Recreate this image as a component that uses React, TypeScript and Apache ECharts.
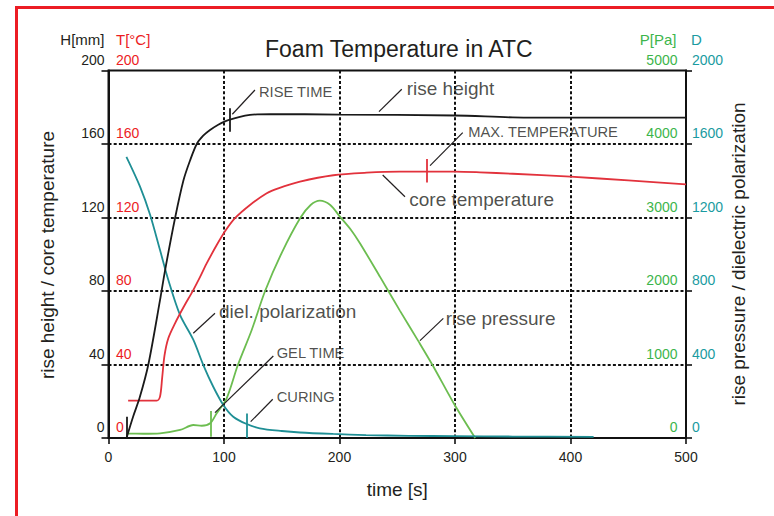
import React, { useEffect, useRef } from "react";
import * as echarts from "echarts";

// ---------- data ----------
const timeTicks = [0, 100, 200, 300, 400, 500];

const riseTime = [15.6, 21.5, 27, 34.5, 44.6, 48.9, 57.6, 64.8, 70.6, 76.4, 82, 87.9, 95, 103.7, 122.5, 140, 200, 300, 350, 400, 500];
const riseHeight = [0, 12, 22, 40, 75, 91, 119.6, 140, 151, 160, 164.5, 167.6, 170.5, 173, 175.8, 176.3, 176, 175.5, 174.5, 174.3, 174.3];

const tempTime = [17, 41.7, 44.6, 46.5, 48.5, 51.8, 57.6, 64.8, 73.4, 79.2, 85, 93.7, 100.9, 109.5, 122.5, 137, 147, 165.8, 194.6, 223.5, 252, 275.5, 300, 321.6, 350, 400, 450, 500];
const coreTemp = [20.3, 20.3, 22.5, 33, 45, 54.3, 62.4, 71, 80.5, 87.5, 95, 105, 112.5, 119.6, 126.8, 133.2, 135.9, 139.5, 143, 144.4, 145, 145, 145, 144.6, 143.8, 142.2, 140.2, 138];

const pressTime = [15.7, 30, 44.6, 62, 73.4, 80.7, 88, 93.7, 102.3, 112, 124, 135.5, 150, 166, 175, 183, 192, 200.4, 210, 217.7, 235, 252.4, 268, 281, 299, 317.5];
const risePressure = [60, 58, 64, 109, 177, 167, 200, 336, 540, 993, 1470, 1996, 2520, 2993, 3170, 3230, 3170, 3011, 2830, 2650, 2195, 1730, 1325, 980, 470, 0];

const polTime = [15.5, 27.3, 36, 44.6, 51.8, 61.9, 73.4, 82.1, 90.7, 99.4, 108, 119.7, 131, 150, 165.8, 194.6, 223, 260, 300, 350, 420];
const polarization = [1530, 1368, 1215, 1023, 860, 670, 535, 397, 279, 180, 116, 76, 53, 38, 30, 22, 16, 12, 10, 8, 6];

// annotations in data units (time, height scale)
const annoText = ["RISE TIME", "rise height", "MAX. TEMPERATURE", "core temperature", "diel. polarization", "rise pressure", "GEL TIME", "CURING"];
const annoCaps = [true, false, true, false, false, false, true, true];
const annoAt = [[130.3, 188.5], [258.2, 190.3], [311.5, 166.7], [260.4, 129.9], [95.7, 68.7], [291.9, 65.1], [145.6, 46.4], [145.6, 22.1]];
const leaderFrom = [[107.2, 176.2], [234.2, 177.6], [278.4, 148.2], [237.4, 143.1], [73.4, 57], [269.7, 53], [92.2, 13.8], [123.1, 8.9]];
const leaderTo = [[126.8, 189.4], [253.9, 189.8], [306.7, 166.2], [256.7, 131.3], [92.2, 67.9], [289.9, 65.1], [142.7, 44.6], [142.2, 21.1]];

// event markers (time, from, to on height scale) and which curve they belong to
const markerTime = [15.6, 104.6, 275.5, 88.5, 119.7];
const markerFrom = [0, 166.7, 139, 0.7, 0];
const markerTo = [11.6, 179.4, 151.8, 14.7, 13.4];
const markerCurve = ["height", "height", "temp", "pressure", "pol"];

// ---------- styles ----------
const FONT = '"Liberation Sans", Arial, Helvetica, sans-serif';
const INK = "#231f20";
const C_H = "#1a1a1a";
const C_T = "#e2323c";
const C_T_LABEL = "#ec1c24";
const C_P = "#6cbd50";
const C_P_LABEL = "#3cb54b";
const C_D = "#1f8f95";
const C_D_LABEL = "#1a9ba1";
const curveColor: Record<string, string> = { height: C_H, temp: C_T, pressure: C_P, pol: C_D };

const zip = (a: number[], b: number[]) => a.map((v, i) => [v, b[i]]);

const gridDash = { color: "#111", width: 2, type: [3, 2.2] as any };
const plain = (v: number) => String(v);

function curve(name: string, axis: number, t: number[], v: number[], color: string, z: number) {
  return {
    name,
    type: "line",
    yAxisIndex: axis,
    data: zip(t, v),
    showSymbol: false,
    symbol: "none",
    smooth: 0.3,
    lineStyle: { color, width: 1.8 },
    z,
  };
}

function buildOption(): any {
  const labelBase = { fontSize: 14, fontFamily: FONT, verticalAlign: "bottom", lineHeight: 22, showMinLabel: true, showMaxLabel: true, formatter: plain };
  return {
    animation: false,
    backgroundColor: "#fff",
    title: {
      text: "Foam Temperature in ATC",
      left: 265,
      top: 37,
      padding: 0,
      textStyle: { fontSize: 23, fontWeight: "normal", color: INK, fontFamily: FONT },
    },
    grid: { left: 108.5, top: 70.5, right: 88, bottom: 78, show: true, borderColor: "#111", borderWidth: 2 },
    xAxis: [
      {
        type: "value",
        min: timeTicks[0],
        max: timeTicks[timeTicks.length - 1],
        interval: timeTicks[1] - timeTicks[0],
        axisLine: { show: true, lineStyle: { color: "#111", width: 2 } },
        axisTick: { show: true, length: 6, lineStyle: { color: "#111", width: 1.6 } },
        axisLabel: { color: INK, fontSize: 14, fontFamily: FONT, margin: 12, formatter: plain },
        splitLine: { show: true, showMinLine: false, showMaxLine: false, lineStyle: gridDash },
        name: "time [s]",
        nameLocation: "middle",
        nameGap: 42,
        nameTextStyle: { fontSize: 19, color: INK, fontFamily: FONT },
      },
    ],
    yAxis: [
      {
        type: "value",
        position: "left",
        min: 0,
        max: 200,
        interval: 40,
        axisLine: { show: true, lineStyle: { color: "#111", width: 2 } },
        axisTick: { show: true, length: 7, lineStyle: { color: "#111", width: 1.6 } },
        axisLabel: { ...labelBase, color: INK, margin: 4 },
        splitLine: { show: true, showMinLine: false, showMaxLine: false, lineStyle: gridDash },
        name: "H[mm]",
        nameLocation: "end",
        nameGap: 24,
        nameTextStyle: { align: "right", padding: [0, 4, 0, 0], fontSize: 15, color: INK, fontFamily: FONT },
      },
      {
        type: "value",
        position: "left",
        min: 0,
        max: 200,
        interval: 40,
        axisLine: { show: false },
        axisTick: { show: false },
        axisLabel: { ...labelBase, color: C_T_LABEL, inside: true, margin: 7.5 },
        splitLine: { show: false },
        name: "T[°C]",
        nameLocation: "end",
        nameGap: 24,
        nameTextStyle: { align: "left", padding: [0, 0, 0, 7.5], fontSize: 15, color: C_T_LABEL, fontFamily: FONT },
      },
      {
        type: "value",
        position: "right",
        min: 0,
        max: 5000,
        interval: 1000,
        axisLine: { show: false },
        axisTick: { show: false },
        axisLabel: { ...labelBase, color: C_P_LABEL, inside: true, margin: 8.5 },
        splitLine: { show: false },
        name: "P[Pa]",
        nameLocation: "end",
        nameGap: 24,
        nameTextStyle: { align: "right", padding: [0, 9.5, 0, 0], fontSize: 15, color: C_P_LABEL, fontFamily: FONT },
      },
      {
        type: "value",
        position: "right",
        min: 0,
        max: 2000,
        interval: 400,
        axisLine: { show: true, lineStyle: { color: "#111", width: 2 } },
        axisTick: { show: true, length: 6, lineStyle: { color: "#111", width: 1.6 } },
        axisLabel: { ...labelBase, color: C_D_LABEL, margin: 6 },
        splitLine: { show: false },
        name: "D",
        nameLocation: "end",
        nameGap: 24,
        nameTextStyle: { align: "left", padding: [0, 0, 0, 5], fontSize: 15, color: C_D_LABEL, fontFamily: FONT },
      },
    ],
    graphic: [
      {
        type: "rect",
        z: -10,
        silent: true,
        shape: { x: 16.5, y: 7.5, width: 1200, height: 1200 },
        style: { fill: "none", stroke: "#ec1c24", lineWidth: 3 },
      },
      {
        type: "text",
        x: 47,
        y: 255,
        rotation: Math.PI / 2,
        silent: true,
        style: { text: "rise height / core temperature", fontSize: 19, fontFamily: FONT, fill: INK, align: "center", verticalAlign: "middle" },
      },
      {
        type: "text",
        x: 738,
        y: 254,
        rotation: Math.PI / 2,
        silent: true,
        style: { text: "rise pressure / dielectric polarization", fontSize: 19, fontFamily: FONT, fill: INK, align: "center", verticalAlign: "middle" },
      },
    ],
    series: [
      curve("rise pressure", 2, pressTime, risePressure, C_P, 3),
      curve("dielectric polarization", 3, polTime, polarization, C_D, 4),
      curve("core temperature", 1, tempTime, coreTemp, C_T, 5),
      curve("rise height", 0, riseTime, riseHeight, C_H, 6),
      {
        name: "annotations",
        type: "scatter",
        yAxisIndex: 0,
        symbol: "circle",
        symbolSize: 0,
        silent: true,
        z: 7,
        itemStyle: { color: "transparent" },
        data: annoAt.map((p, i) => ({
          value: p,
          label: { fontSize: annoCaps[i] ? 14.7 : 19 },
        })),
        label: {
          show: true,
          position: "right",
          distance: 0,
          color: INK,
          fontFamily: FONT,
          formatter: (p: any) => annoText[p.dataIndex],
        },
        markLine: {
          silent: true,
          symbol: ["none", "none"],
          label: { show: false },
          lineStyle: { color: INK, width: 1.2, type: "solid" },
          data: [
            ...leaderFrom.map((f, i) => [{ coord: f }, { coord: leaderTo[i] }]),
            ...markerTime.map((t, i) => [
              { coord: [t, markerFrom[i]], lineStyle: { color: curveColor[markerCurve[i]], width: 1.8, type: "solid" } },
              { coord: [t, markerTo[i]] },
            ]),
          ],
        },
      },
    ],
  };
}

export default function App() {
  const ref = useRef<HTMLDivElement>(null);
  useEffect(() => {
    if (!ref.current) return;
    const chart = echarts.init(ref.current, null, { renderer: "svg" });
    chart.setOption(buildOption());
    return () => chart.dispose();
  }, []);
  return (
    <div
      ref={ref}
      style={{ position: "fixed", left: 0, top: 0, width: 774, height: 516, background: "#fff" }}
    />
  );
}
